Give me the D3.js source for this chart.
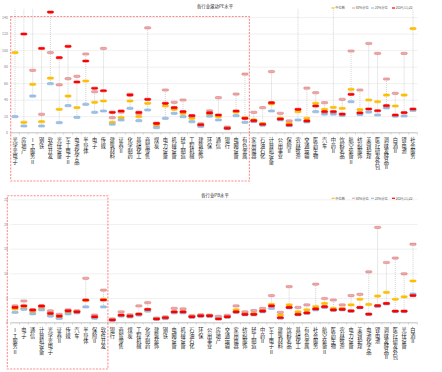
<!DOCTYPE html>
<html>
<head>
<meta charset="utf-8">
<script src="https://cdn.jsdelivr.net/npm/d3@7"></script>
<style>
body { margin: 0; background: #fff; }
text { font-family: "Noto Sans CJK SC", "Noto Sans", sans-serif; }
.vlab { writing-mode: vertical-rl; text-orientation: upright; letter-spacing: 0.2px; }
</style>
</head>
<body>
<div id="chart"></div>
<script>
// legend / series
var seriesNames = ["中位数", "80%分位", "20%分位", "2024/11/22"];
var seriesFill = ["#ffc000", "#eeaaaa", "#9dc3e6", "#ff0000"];
var seriesStroke = ["#f5b800", "#d47272", "#7fa9d6", "#e60000"];

// PE panel
var peCats = ["光学光电子","房地产","IT服务Ⅱ","钢铁","软件开发","光伏设备","军工电子Ⅱ","电池化学品","半导体","电子",
  "传媒","建筑材料","证券Ⅱ","化学制药","基础化工","商贸零售","煤炭","电力设备","机械设备","轻工制造",
  "工程机械","建筑装饰","环保","通信","银行","电网设备","有色金属","家用电器","石油石化","计算机设备",
  "公用事业","保险Ⅱ","农林牧渔","交通运输","医药生物","汽车","中药Ⅱ","饮料乳品","航空装备Ⅱ","纺织服饰",
  "美容护理","医疗研发外包","调味发酵品Ⅱ","白酒Ⅱ","锂电池","社会服务"];
var peMedian = [97,12.6,58.6,13.3,66,28.3,44.4,30.3,62.6,36.8, 38.4,12.6,18.2,38.4,19.4,35.6,8.5,32.3,28.3,23.5,
  17.4,9,22.5,19.4,6,25,18,15.5,11,35, 17.5,11.4,25.4,17.4,35.6,28.3,30.7,29.5,52.5,28, 39.6,37.5,45.6,32.3,45.6,126];
var peP80 = [175,170,75.5,22.3,97,58,65.4,68.3,95.3,49.6, 102,18.2,25,46.5,23,127,11,51.7,36.8,39.6,
  20,10.8,26.5,42.4,6.8,46.8,71,24.7,30.3,74, 23.5,14.2,170,54,48.4,36.3,170,40.4,98.9,51.7, 108,96,65,47.7,96,170];
var peP20 = [19.4,8.1,44.4,8.1,59.3,12.1,32.7,18.6,34.4,24.7, 26.3,10.2,15.4,29.5,14.5,27.5,6.1,17.4,23.5,19.4,
  13.3,7.5,20,15.4,5,20.6,12.6,13.5,9,26.3, 15.5,8.5,15.4,13,25.4,22.6,22.6,21,37.5,22, 25,21.4,30,20,20.2,27];
var peNow = [165,119.5,160,102,146,90.8,104.6,61.4,86.8,53.8, 50.8,24.7,26.3,45.6,24.7,40.4,11.4,35.6,30.3,25.4,
  20.6,9.6,24,21.4,5.4,26.3,17.4,14.5,10.2,36.3, 16.6,9.3,28.3,14.2,32.3,25.4,25.4,22.6,46.5,24, 28.7,26.6,32.7,21.4,24.2,28.7];
var peTicks = [0,20,40,60,80,100,120,140];

// PB panel
var pbCats = ["IT服务Ⅱ","电子","通信","计算机设备","光学光电子","证券Ⅱ","传媒","汽车","半导体","保险Ⅱ",
  "软件开发","银行","商贸零售","煤炭","工程机械","化学制药","建筑装饰","钢铁","电网设备","机械设备",
  "石油石化","环保","公用事业","房地产","交通运输","家用电器","纺织服饰","轻工制造","中药Ⅱ","军工电子Ⅱ",
  "建筑材料","饮料乳品","基础化工","有色金属","社会服务","航空装备Ⅱ","医药生物","农林牧渔","电力设备","美容护理",
  "电池化学品","锂电池","调味发酵品Ⅱ","医疗研发外包","光伏设备","白酒Ⅱ"];
var pbMedian = [2.8,2.9,2.2,3.0,1.6,1.0,2.1,2.35,4.5,1.05, 4.75,0.7,1.45,1.25,1.7,2.6,0.85,0.95,2.15,2.1,
  1.35,1.5,1.45,1.1,1.3,2.6,1.9,1.85,2.5,3.7, 1.55,3.6,2.2,2.6,3.25,3.9,2.9,2.9,3.6,4.75, 3.7,5.4,6.15,4.75,5.25,8.45];
var pbP80 = [3.4,4.4,2.5,3.3,2.4,1.7,2.6,2.4,9.0,1.55, 6.6,0.75,2.2,1.6,3.4,4.05,0.95,1.2,2.9,2.8,
  1.4,1.6,1.55,1.3,1.5,3.4,2.2,2.45,2.9,5.5, 2.1,7.3,3.1,3.6,7.8,4.9,4.6,3.6,5.5,5.75, 10.3,19.3,12.2,13.1,9.9,15.9];
var pbP20 = [2.1,2.7,1.8,2.6,1.35,0.85,1.8,2.0,3.2,0.9, 3.2,0.5,1.35,1.15,1.55,2.35,0.7,0.85,2.0,2.0,
  1.1,1.3,1.3,0.9,1.1,2.1,1.6,1.6,2.2,2.9, 0.95,3.0,1.6,1.9,2.6,3.1,2.5,2.6,2.3,3.0, 1.65,3.3,3.8,2.25,2.25,5.8];
var pbNow = [3.1,3.4,2.6,3.4,1.9,1.35,2.4,2.2,4.6,1.2, 4.6,0.55,1.55,1.35,1.75,2.7,0.75,1.0,2.2,2.2,
  1.2,1.4,1.4,0.75,1.2,2.2,1.7,1.7,2.35,3.4, 1.0,3.1,1.7,2.0,2.8,3.25,2.6,2.7,2.4,3.1, 1.75,3.45,3.9,2.35,2.35,5.5];
var pbTicks = [0,5,10,15,20,25];

var W = 442, H = 372;
var svg = d3.select("#chart").append("svg")
    .attr("width", W).attr("height", H)
    .style("display", "block");

function drawPanel(opt) {
    var cats = opt.cats;
    var x = d3.scaleBand().domain(cats).range([10.6, 417.4]);
    var y = d3.scaleLinear().domain([0, opt.max]).range([opt.bottom, opt.top]);
    var bw = x.bandwidth();
    var g = svg.append("g");

    var clipId = "clip" + opt.id;
    svg.append("clipPath").attr("id", clipId)
        .append("rect")
        .attr("x", 10.6).attr("y", opt.top)
        .attr("width", 417.4 - 10.6).attr("height", opt.bottom - opt.top);

    // gridlines + y labels
    var yAxis = g.append("g")
        .attr("transform", "translate(10.6,0)")
        .call(d3.axisLeft(y).tickValues(opt.ticks).tickSize(-(417.4 - 10.6)).tickPadding(2.5));
    yAxis.select(".domain").remove();
    yAxis.selectAll("line").attr("stroke", "#ececec").attr("stroke-width", 0.8);
    yAxis.selectAll("text").attr("font-size", "3.6px").attr("fill", "#7f7f7f")
        .attr("font-family", "'Noto Sans CJK SC', sans-serif");

    // x axis line and ticks
    g.append("line")
        .attr("x1", 10.6).attr("x2", 417.4)
        .attr("y1", y(0)).attr("y2", y(0))
        .attr("stroke", "#bfbfbf").attr("stroke-width", 0.8);
    g.selectAll("xtick")
        .data(cats.concat(["__end"]))
        .enter().append("line")
        .attr("x1", function (d, i) { return 10.6 + i * bw; })
        .attr("x2", function (d, i) { return 10.6 + i * bw; })
        .attr("y1", y(0)).attr("y2", y(0) + 2)
        .attr("stroke", "#bfbfbf").attr("stroke-width", 0.6);

    // rows of values
    var rows = cats.map(function (c, i) {
        return { cat: c, vals: [opt.median[i], opt.p80[i], opt.p20[i], opt.now[i]] };
    });

    var plot = g.append("g").attr("clip-path", "url(#" + clipId + ")");

    // high-low dotted lines
    plot.selectAll("hl")
        .data(rows)
        .enter().append("line")
        .attr("x1", function (d) { return x(d.cat) + bw / 2; })
        .attr("x2", function (d) { return x(d.cat) + bw / 2; })
        .attr("y1", function (d) { return y(d3.max(d.vals)); })
        .attr("y2", function (d) { return y(d3.min(d.vals)); })
        .attr("stroke", "#c8c8c8").attr("stroke-width", 0.8)
        .attr("stroke-dasharray", "1,1");

    // markers, one series at a time (legend order)
    seriesNames.forEach(function (s, k) {
        plot.selectAll("m" + k)
            .data(rows)
            .enter().append("rect")
            .attr("x", function (d) { return x(d.cat) + bw / 2 - 3.2; })
            .attr("y", function (d) { return y(d.vals[k]) - 1.1; })
            .attr("width", 6.4).attr("height", 2.2)
            .attr("rx", 1.1)
            .attr("fill", seriesFill[k])
            .attr("stroke", seriesStroke[k]).attr("stroke-width", 0.5);
    });

    // category labels, vertical upright text
    g.selectAll("cl")
        .data(cats)
        .enter().append("text")
        .attr("class", "vlab")
        .attr("x", function (d) { return x(d) + bw / 2; })
        .attr("y", y(0) + 5)
        .attr("font-size", "5.2px")
        .attr("fill", "#262626")
        .text(function (d) { return d; });

    // title
    g.append("text")
        .attr("x", 215).attr("y", opt.titleY)
        .attr("text-anchor", "middle")
        .attr("font-size", "4.4px")
        .attr("fill", "#262626")
        .text(opt.title);

    // legend
    var legX = [333, 353.5, 372.5, 393.5];
    var leg = g.selectAll("lg")
        .data(seriesNames)
        .enter().append("g")
        .attr("transform", function (d, i) { return "translate(" + legX[i] + "," + opt.legendY + ")"; });
    leg.append("rect")
        .attr("x", -1.5).attr("y", -0.6)
        .attr("width", 3).attr("height", 1.2)
        .attr("fill", function (d, i) { return seriesFill[i]; });
    leg.append("text")
        .attr("x", 2.3).attr("y", 1.2)
        .attr("font-size", "3.2px")
        .attr("fill", "#595959")
        .text(function (d) { return d; });

    // highlighted group
    var hx1 = x(cats[opt.hlLast]) + bw;
    g.append("rect")
        .attr("x", opt.hlX0).attr("y", opt.hlY0)
        .attr("width", hx1 - opt.hlX0).attr("height", opt.hlY1 - opt.hlY0)
        .attr("fill", "none")
        .attr("stroke", "#ff8a8a").attr("stroke-width", 1.1)
        .attr("stroke-dasharray", "2,1.3");
}

drawPanel({
    id: "pe", cats: peCats, median: peMedian, p80: peP80, p20: peP20, now: peNow,
    max: 150, ticks: peTicks, top: 8.8, bottom: 132.7,
    title: "各行业滚动PE水平", titleY: 7.5, legendY: 8,
    hlLast: 26, hlX0: 10.7, hlY0: 16.5, hlY1: 181
});
drawPanel({
    id: "pb", cats: pbCats, median: pbMedian, p80: pbP80, p20: pbP20, now: pbNow,
    max: 25, ticks: pbTicks, top: 199.3, bottom: 322.7,
    title: "各行业PB水平", titleY: 197, legendY: 198.3,
    hlLast: 10, hlX0: 7.3, hlY0: 195.7, hlY1: 369
});
</script>
</body>
</html>
